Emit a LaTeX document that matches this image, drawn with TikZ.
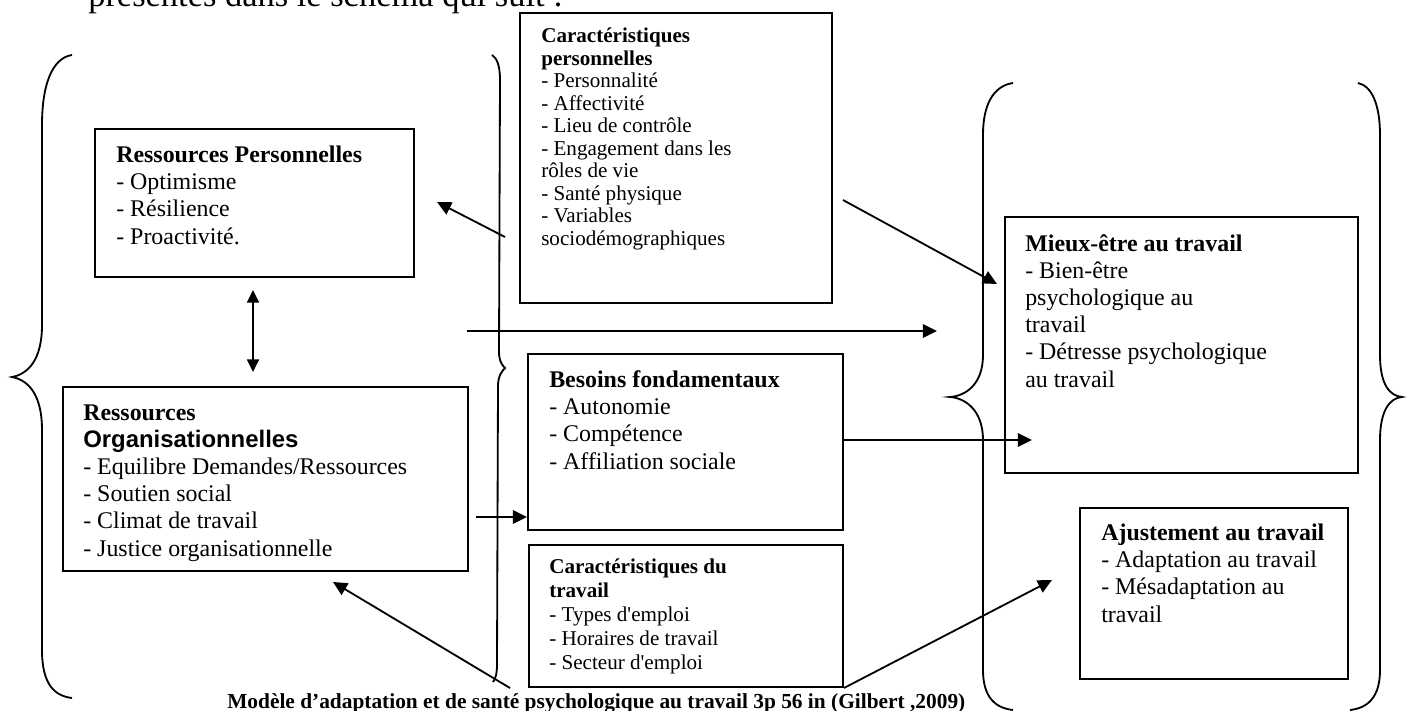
\documentclass[tikz,border=0pt]{standalone}
\usepackage{fontspec}
\setmainfont{Liberation Serif}
\setsansfont{Liberation Sans}
\usetikzlibrary{arrows.meta,fit}

\begin{document}
\begin{tikzpicture}[x=0.025cm,y=-0.025cm,
 box/.style={draw,line width=1.4pt,inner sep=0pt},
 big/.style={anchor=base west,align=left,inner sep=0pt,font=\fontsize{17}{19.3}\selectfont},
 small/.style={anchor=base west,align=left,inner sep=0pt,font=\fontsize{15}{16}\selectfont},
 a/.style={-{Triangle[length=10pt,width=9.5pt]},line width=1.3pt},
 aa/.style={{Triangle[length=9pt,width=8.5pt]}-{Triangle[length=9pt,width=8.5pt]},line width=1.3pt},
 brace/.style={line width=1.3pt}]
\useasboundingbox (0,0) rectangle (1409,711);

% line of the page above, cut by the top edge
\node[anchor=base west,inner sep=0pt,font=\fontsize{24.5}{27}\selectfont] (intro) at (88,6) {présentés dans le schéma qui suit :};

% boxes
\node[box,fit={(95,129) (414,277)}] (rp) {};
\node[box,fit={(63,387) (468,571)}] (ro) {};
\node[box,fit={(520,13) (832,303)}] (cp) {};
\node[box,fit={(528,354) (843,530)}] (bf) {};
\node[box,fit={(529,545) (843,687)}] (ct) {};
\node[box,fit={(1005,217) (1358,473)}] (me) {};
\node[box,fit={(1080,508) (1348,679)}] (aj) {};

% box texts (placed at the baseline of their last line)
\node[big] (rpt) at (116,244) {\textbf{Ressources Personnelles}\\- Optimisme\\- Résilience\\- Proactivité.};
\node[big] (rot) at (83,556) {\textbf{Ressources}\\{\fontsize{17}{19.3}\selectfont\sffamily\bfseries Organisationnelles}\\- Equilibre Demandes/Ressources\\- Soutien social\\- Climat de travail\\- Justice organisationnelle};
\node[small] (cpt) at (541,245) {\textbf{Caractéristiques}\\\textbf{personnelles}\\- Personnalité\\- Affectivité\\- Lieu de contrôle\\- Engagement dans les\\rôles de vie\\- Santé physique\\- Variables\\sociodémographiques};
\node[big] (bft) at (549,469) {\textbf{Besoins fondamentaux}\\- Autonomie\\- Compétence\\- Affiliation sociale};
\node[small,font=\fontsize{15}{17}\selectfont] (ctt) at (549,669) {\textbf{Caractéristiques du}\\\textbf{travail}\\- Types d\textquotesingle emploi\\- Horaires de travail\\- Secteur d\textquotesingle emploi};
\node[big] (met) at (1025,387) {\textbf{Mieux-être au travail}\\- Bien-être\\psychologique au\\travail\\- Détresse psychologique\\au travail};
\node[big] (ajt) at (1101,622) {\textbf{Ajustement au travail}\\- Adaptation au travail\\- Mésadaptation au\\travail};

\node[anchor=base west,inner sep=0pt,font=\fontsize{15.2}{17}\selectfont\bfseries] (cap) at (227,708) {Modèle d’adaptation et de santé psychologique au travail 3p 56 in (Gilbert ,2009)};

% braces
\draw[brace] (72,55) .. controls (52,58) and (42,85) .. (42,125) -- (42,325) .. controls (42,360) and (28,374) .. (12,377) .. controls (28,380) and (42,394) .. (42,430) -- (42,650) .. controls (42,685) and (55,696) .. (72,698);
\draw[brace] (492,55) .. controls (497,58) and (500,66) .. (500,80) -- (499,352) .. controls (499,362) and (503,366) .. (505,368) .. controls (502,371) and (498,376) .. (498,386) -- (497,664) .. controls (497,673) and (496,678) .. (493,682);
\draw[brace] (1013,83) .. controls (993,86) and (983,105) .. (983,135) -- (983,355) .. controls (983,385) and (965,396) .. (950,397) .. controls (965,398) and (983,410) .. (983,440) -- (983,670) .. controls (983,697) and (995,708) .. (1013,710);
\draw[brace] (1358,83) .. controls (1372,86) and (1380,105) .. (1380,135) -- (1380,355) .. controls (1380,385) and (1390,396) .. (1402,397) .. controls (1390,398) and (1380,410) .. (1380,440) -- (1380,670) .. controls (1380,697) and (1368,708) .. (1350,710);

% arrow ends
\coordinate (cpL) at (505,237);
\coordinate (rpR) at (437,202);
\coordinate (rpS) at (253,290);
\coordinate (roN) at (253,372);
\coordinate (midL) at (467,331);
\coordinate (midR) at (937,331);
\coordinate (roE) at (476,517);
\coordinate (meW) at (1032,440);
\coordinate (cpR) at (843,200);
\coordinate (meN) at (997,284);
\coordinate (ajW) at (1052,580);
\coordinate (capN) at (510,688);
\coordinate (roS) at (333,582);

\draw[a] (cpL) -- (rpR);
\draw[aa] (rpS) -- (roN);
\draw[a] (midL) -- (midR);
\draw[a] (roE) -- (bf.west |- roE);
\draw[a] (bf.east |- meW) -- (meW);
\draw[a] (cpR) -- (meN);
\draw[a] (ct.south east) -- (ajW);
\draw[a] (capN) -- (roS);
\end{tikzpicture}
\end{document}
